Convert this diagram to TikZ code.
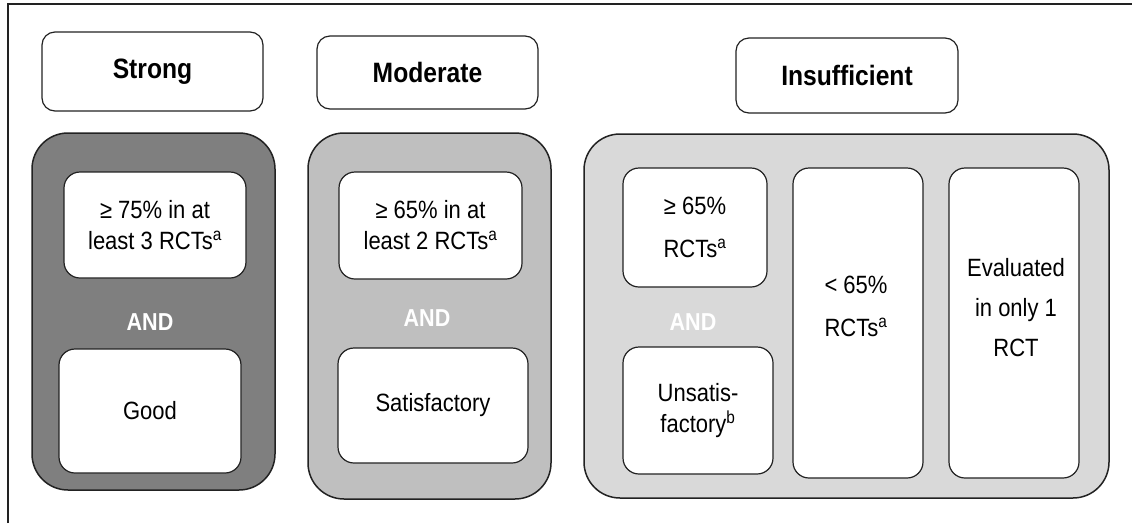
\documentclass[tikz,border=0pt]{standalone}
\usepackage{fontspec}
\setmainfont{Liberation Sans}[FakeStretch=0.88]
\definecolor{strongfill}{HTML}{7F7F7F}
\definecolor{modfill}{HTML}{BFBFBF}
\definecolor{insfill}{HTML}{D9D9D9}
\definecolor{edge}{HTML}{222222}
\begin{document}
\begin{tikzpicture}[x=1pt,y=-1pt,
  outerbox/.style={draw=edge, line width=1.5pt, rounded corners=36pt, inner sep=0pt},
  inbox/.style={draw=edge, fill=white, line width=1.2pt, rounded corners=16pt, inner sep=0pt, align=center},
  hdr/.style={draw=edge, fill=white, line width=1.2pt, rounded corners=13pt, inner sep=0pt, font=\fontsize{28}{32}\selectfont\bfseries},
  andtxt/.style={text=white, inner sep=0pt, font=\fontsize{24.5}{28}\selectfont\bfseries},
  bodytxt/.style={align=center, inner sep=0pt, font=\fontsize{25}{31}\selectfont},
  widetxt/.style={align=center, inner sep=0pt, font=\fontsize{25}{43}\selectfont}
]
\useasboundingbox (0,0) rectangle (1132,523);
\fill[white] (0,0) rectangle (1132,523);
% frame
\draw[line width=1.2pt, edge] (8,523) -- (8,4) -- (1132,4);

% Strong
\node[hdr, minimum width=221pt, minimum height=79pt] (hs) at (152.5,71.5) {Strong};
\node[outerbox, fill=strongfill, minimum width=243pt, minimum height=357pt] (os) at (153.5,311.5) {};
\node[inbox, bodytxt, minimum width=182pt, minimum height=106pt] (s1) at (155,225) {≥ 75\% in at\\least 3 RCTs\textsuperscript{a}};
\node[andtxt] (sand) at (150,322) {AND};
\node[inbox, bodytxt, minimum width=182pt, minimum height=124pt] (s2) at (150,411) {Good};

% Moderate
\node[hdr, minimum width=221pt, minimum height=73pt] (hm) at (427.5,72.5) {Moderate};
\node[outerbox, fill=modfill, minimum width=243pt, minimum height=366pt] (om) at (429.5,316) {};
\node[inbox, bodytxt, minimum width=183pt, minimum height=107pt] (m1) at (430.5,225.5) {≥ 65\% in at\\least 2 RCTs\textsuperscript{a}};
\node[andtxt] (mand) at (427,318) {AND};
\node[inbox, bodytxt, minimum width=190pt, minimum height=115pt] (m2) at (433,405.5) {Satisfactory};

% Insufficient
\node[hdr, minimum width=222pt, minimum height=75pt] (hi) at (847,75.5) {Insufficient};
\node[outerbox, fill=insfill, minimum width=525pt, minimum height=364pt] (oi) at (846.5,316) {};
\node[inbox, widetxt, minimum width=144pt, minimum height=119pt] (i1) at (695,227.5) {≥ 65\%\\RCTs\textsuperscript{a}};
\node[andtxt] (iand) at (693,322) {AND};
\node[inbox, bodytxt, minimum width=150pt, minimum height=127pt] (i2) at (698,410.5) {Unsatis-\\factory\textsuperscript{b}};
\node[inbox, minimum width=130pt, minimum height=310pt] (i3) at (858,323) {};
\node[widetxt] (i3t) at (856,306) {< 65\%\\RCTs\textsuperscript{a}};
\node[inbox, minimum width=130pt, minimum height=310pt] (i4) at (1014,323) {};
\node[align=center, inner sep=0pt, font=\fontsize{25}{40}\selectfont] (i4t) at (1016,308) {Evaluated\\in only 1\\RCT};
\end{tikzpicture}
\end{document}
